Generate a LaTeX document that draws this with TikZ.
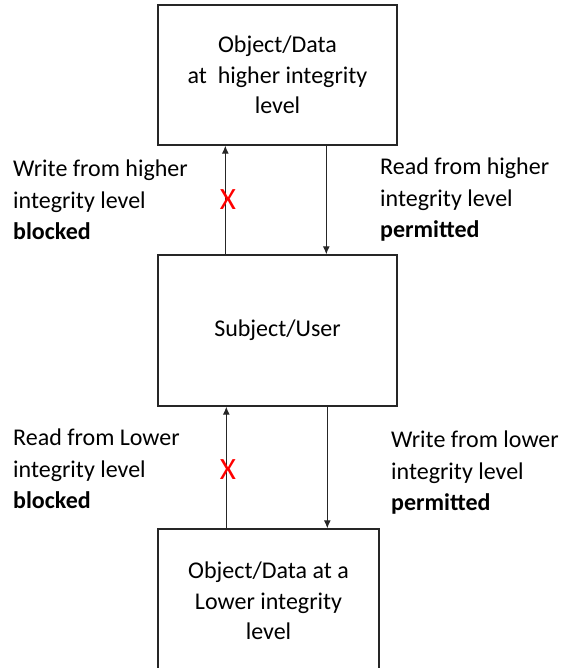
\documentclass[tikz,border=0pt]{standalone}
\usepackage{fontspec}
\setmainfont{Carlito}
\usetikzlibrary{arrows.meta}
\begin{document}
\begin{tikzpicture}[x=1pt,y=-1pt,
  box/.style={draw=black!85,line width=1.4pt,minimum width=239pt,align=center,inner sep=0pt,
    font=\fontsize{24}{30.5}\selectfont},
  lbl/.style={anchor=west,align=left,inner sep=0pt,font=\fontsize{24}{31.5}\selectfont},
  arr/.style={draw=black!85,line width=1pt,-{Latex[length=8pt,width=7pt]}},
  cross/.style={text=red,inner sep=0pt,font=\fontsize{31}{31}\selectfont}]
\useasboundingbox (0,0) rectangle (563,668);
\clip (0,0) rectangle (563,668);
\node[box,minimum height=140pt] (top) at (277.5,75) {Object/Data\\at\ \ higher integrity\\level};
\node[box,minimum height=151pt] (mid) at (277.5,330.5) {Subject/User};
\node[box,minimum width=221pt,minimum height=144pt] (bot) at (268.5,601) {Object/Data at a\\Lower integrity\\level};
\draw[arr] ([xshift=68pt]mid.north west) -- ([xshift=68pt]top.south west);
\draw[arr] ([xshift=169pt]top.south west) -- ([xshift=169pt]mid.north west);
\draw[arr] ([xshift=69pt]bot.north west) -- ([xshift=69pt]mid.south west);
\draw[arr] ([xshift=170pt]mid.south west) -- ([xshift=170pt]bot.north west);
\node[cross] (x1) at (228,200) {X};
\node[cross] (x2) at (228,470) {X};
\node[lbl] (l1) at (13,200) {Write from higher\\integrity level\\\textbf{blocked}};
\node[lbl] (r1) at (380,200) {Read from higher\\integrity level\\\textbf{permitted}};
\node[lbl] (l2) at (13,469) {Read from Lower\\integrity level\\\textbf{blocked}};
\node[lbl] (r2) at (391,473) {Write from lower\\integrity level\\\textbf{permitted}};
\end{tikzpicture}
\end{document}
